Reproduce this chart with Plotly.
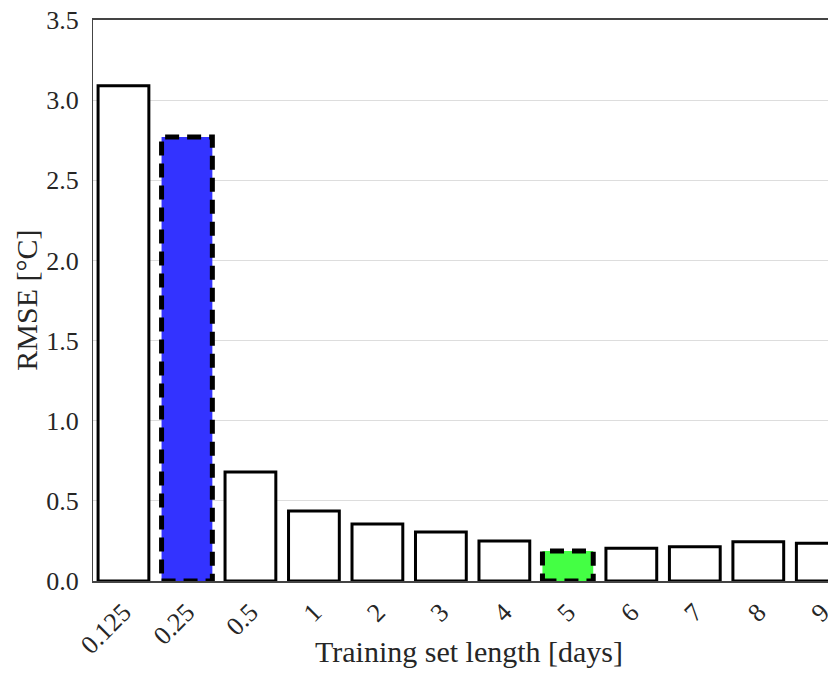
import plotly.graph_objects as go

categories = ["0.125", "0.25", "0.5", "1", "2", "3", "4", "5", "6", "7", "8", "9"]
rmse = [3.09, 2.77, 0.68, 0.437, 0.356, 0.306, 0.25, 0.187, 0.205, 0.214, 0.245, 0.235]
highlight = {"0.25": "#3333ff", "5": "#44ff44"}
y_ticks = [0.0, 0.5, 1.0, 1.5, 2.0, 2.5, 3.0, 3.5]

bar_width = 0.8
fills = [highlight.get(c, "white") for c in categories]
line_w = [0 if c in highlight else 3 for c in categories]

fig = go.Figure()
fig.add_trace(go.Bar(
    x=categories, y=rmse, width=bar_width,
    marker=dict(color=fills, line=dict(color="black", width=line_w)),
    showlegend=False,
))

for i, c in enumerate(categories):
    if c in highlight:
        fig.add_shape(type="rect", xref="x", yref="y",
                      x0=i - bar_width / 2, x1=i + bar_width / 2, y0=0, y1=rmse[i],
                      line=dict(color="black", width=5, dash="14px,8px"),
                      fillcolor="rgba(0,0,0,0)")

font = "'Liberation Serif', 'Times New Roman', serif"
txt = "#262626"
fig.update_layout(
    width=836, height=696,
    margin=dict(l=85, r=0, t=12, b=123),
    plot_bgcolor="white", paper_bgcolor="white",
    font=dict(family=font, size=26, color=txt),
    bargap=0.2,
    annotations=[
        dict(text="Training set length [days]", xref="paper", yref="paper",
             x=0.5, y=-0.125, xanchor="center", yanchor="middle", showarrow=False,
             font=dict(family=font, size=30, color=txt)),
        dict(text="RMSE [°C]", xref="paper", yref="paper", textangle=-90,
             x=-0.089, y=0.5, xanchor="center", yanchor="middle", showarrow=False,
             font=dict(family=font, size=30, color=txt)),
    ],
)
fig.update_xaxes(
    type="category", range=[-0.48, 11.35], tickangle=-45, automargin=False,
    showline=True, linecolor="#444444", linewidth=1.5, mirror=True,
    ticks="", showgrid=False, ticklabelstandoff=4,
    tickfont=dict(family=font, size=26, color=txt),
)
fig.update_yaxes(
    range=[0, 3.5], tickvals=y_ticks, tickformat=".1f", automargin=False,
    showline=True, linecolor="#444444", linewidth=1,
    showgrid=True, gridcolor="#dddddd", gridwidth=1, zeroline=False,
    ticks="", ticklen=0, ticklabelstandoff=8, ticklabeloverflow="allow",
    tickfont=dict(family=font, size=26, color=txt),
)

fig.write_html("out.html")
